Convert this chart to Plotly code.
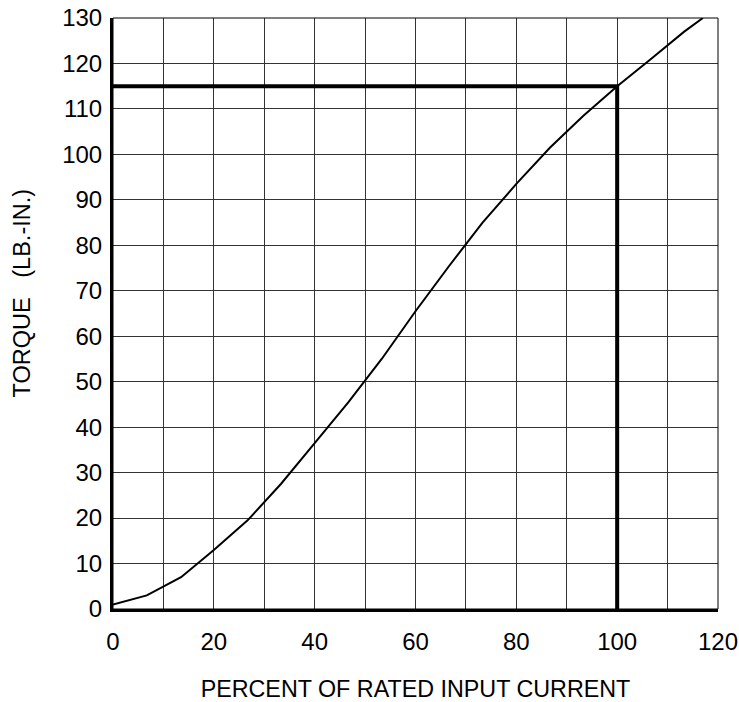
import plotly.graph_objects as go

# Torque curve data
current_pct = [0, 6.7, 13.5, 20, 26.7, 33.3, 40, 46.7, 53.3, 60, 66.7, 73.3, 80, 86.7, 93.3, 100, 106.7, 113.3, 117]
torque = [1, 3, 7, 13, 19.5, 27.5, 36.5, 45.5, 55, 65.5, 75.5, 85, 93.5, 101.5, 108.5, 115, 121, 127, 130]

# Rated point reference lines
ref_x = [0, 100, 100]
ref_y = [115, 115, 0]

x_ticks = [0, 20, 40, 60, 80, 100, 120]
y_ticks = list(range(0, 131, 10))

x_title = "PERCENT OF RATED INPUT CURRENT"
y_title = "TORQUE\u00a0\u00a0\u00a0(LB.-IN.)"

font = "Liberation Sans, Arial, sans-serif"

fig = go.Figure()
fig.add_trace(go.Scatter(x=current_pct, y=torque, mode="lines",
                         line=dict(color="black", width=2), showlegend=False, hoverinfo="skip"))
fig.add_trace(go.Scatter(x=ref_x, y=ref_y, mode="lines",
                         line=dict(color="black", width=4), showlegend=False, hoverinfo="skip"))

fig.update_layout(
    width=739, height=702,
    margin=dict(l=113, r=21, t=18, b=93, autoexpand=False),
    paper_bgcolor="white", plot_bgcolor="white",
    font=dict(family=font, color="black", size=24),
    shapes=[dict(type="rect", xref="paper", yref="paper", x0=0, y0=0, x1=1, y1=1,
                 line=dict(color="black", width=1), layer="above")],
    annotations=[dict(text=y_title, xref="paper", yref="paper", x=0, y=0.534,
                      xshift=-91, xanchor="center", yanchor="middle", textangle=-90,
                      showarrow=False, font=dict(size=23.5, family=font, color="black"))],
)
fig.update_xaxes(
    range=[0, 120], tickvals=x_ticks, ticks="", ticklabelstandoff=9, automargin=False,
    ticklabeloverflow="allow",
    showgrid=True, gridcolor="#333", gridwidth=1,
    minor=dict(dtick=10, showgrid=True, gridcolor="#333", gridwidth=1),
    showline=True, linecolor="black", linewidth=3, zeroline=False,
    tickfont=dict(size=24),
    title=dict(text=x_title, font=dict(size=23.3), standoff=27),
)
fig.update_yaxes(
    range=[0, 130], tickvals=y_ticks, ticks="", ticklabelstandoff=3, automargin=False,
    ticklabeloverflow="allow",
    showgrid=True, gridcolor="#333", gridwidth=1,
    showline=True, linecolor="black", linewidth=3, zeroline=False,
    tickfont=dict(size=24),
)

fig.write_html("out.html", config={"displayModeBar": False, "staticPlot": True},
               post_script="document.body.style.margin='0';document.body.style.overflow='hidden';")
